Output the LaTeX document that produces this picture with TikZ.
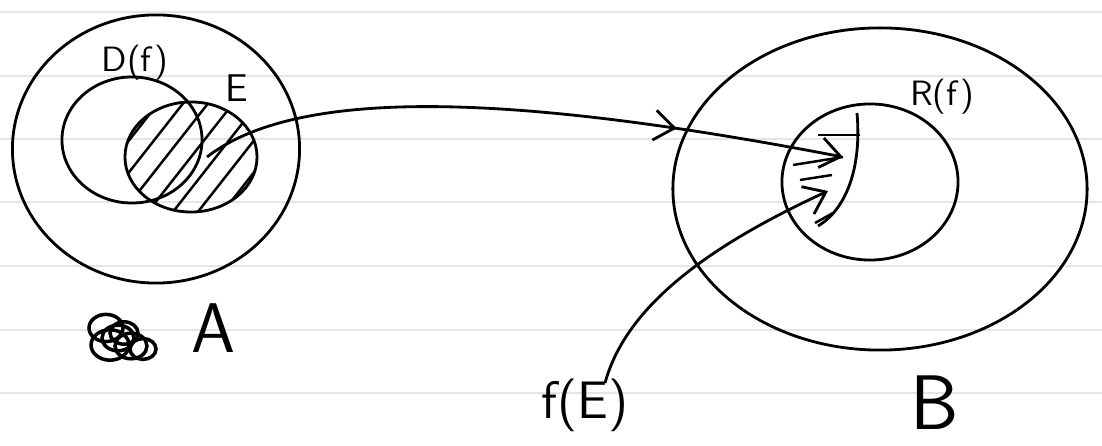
\documentclass[tikz,border=0pt]{standalone}
\usetikzlibrary{positioning, arrows.meta, shapes.geometric, decorations.markings}

\begin{document}
\begin{tikzpicture}[
    x=0.01cm, y=-0.01cm,
    line width=0.8pt,
    every node/.style={font=\sffamily},
    >={Straight Barb[length=2mm,width=3mm]},
    blob/.style={draw, ellipse, inner sep=0pt},
    ruled/.style={gray!20, line width=0.6pt},
    hatch/.style={line width=0.7pt}
]
\fill[white] (0,0) rectangle (1102,446);
\useasboundingbox (0,0) rectangle (1102,446);
% paper lines
\foreach \ly in {12,76,139,202,266,330,393}
    \draw[ruled] (0,\ly) -- (1102,\ly);

% set A, D(f) and E
\node[blob, minimum width=2.87cm, minimum height=2.68cm] (setA) at (156,149) {};
\node[blob, minimum width=1.40cm, minimum height=1.26cm] (domf) at (132,140) {};
\node[blob, minimum width=1.32cm, minimum height=1.10cm] (eset) at (191,157) {};
\begin{scope}
    \clip (eset.center) ellipse [x radius=0.66cm, y radius=0.55cm];
    \foreach \k in {-3,...,3}
        \draw[hatch] ([shift={(\k*15.5,\k*12.1)}]eset.center) ++(-62,79) -- ++(124,-158);
\end{scope}

% set B and R(f)
\node[blob, minimum width=4.14cm, minimum height=3.22cm] (setB) at (880,189) {};
\node[blob, minimum width=1.76cm, minimum height=1.56cm] (rangef) at (870,182) {};
\draw (857,113) .. controls (862,170) and (845,210) .. (818,226);
\draw[hatch] (818,135) -- (860,135);
\draw[hatch] (793,165) -- (843,157);
\draw[hatch] (800,180) -- (832,175);
\draw[hatch] (815,223) -- (833,213);

% labels
\node (lbldomf) at (135,63) {\fontsize{10}{12}\selectfont D(f)};
\node (lble) at (237,88) {\fontsize{11}{13}\selectfont E};
\node (lblrange) at (942,97) {\fontsize{10}{12}\selectfont R(f)};
\node (lblA) at (213,328) {\fontsize{20}{24}\selectfont A};
\node (lblB) at (935,403) {\fontsize{22}{26}\selectfont B};
\node (lblfe) at (585,405) {\fontsize{15}{18}\selectfont f(E)};

% scribble
\foreach \sx/\sy/\sr in {106/328/17, 118/338/16, 131/346/16, 143/349/13, 110/345/19, 124/333/14}
    \draw[line width=1pt] (\sx,\sy) ellipse [x radius=\sr, y radius=\sr*0.8];

% mapping arrows
\coordinate (esrc) at (207,157);
\coordinate (rtip) at (843,157);
\coordinate (fesrc) at (605,383);
\coordinate (rtip2) at (828,191);
\draw[->, postaction={decorate},
    decoration={markings, mark=at position 0.74 with {\arrow{>}}}]
    (esrc) .. controls (300,85) and (520,95) .. (rtip);
\draw[->] (fesrc) .. controls (625,310) and (700,250) .. (rtip2);
\end{tikzpicture}
\end{document}
